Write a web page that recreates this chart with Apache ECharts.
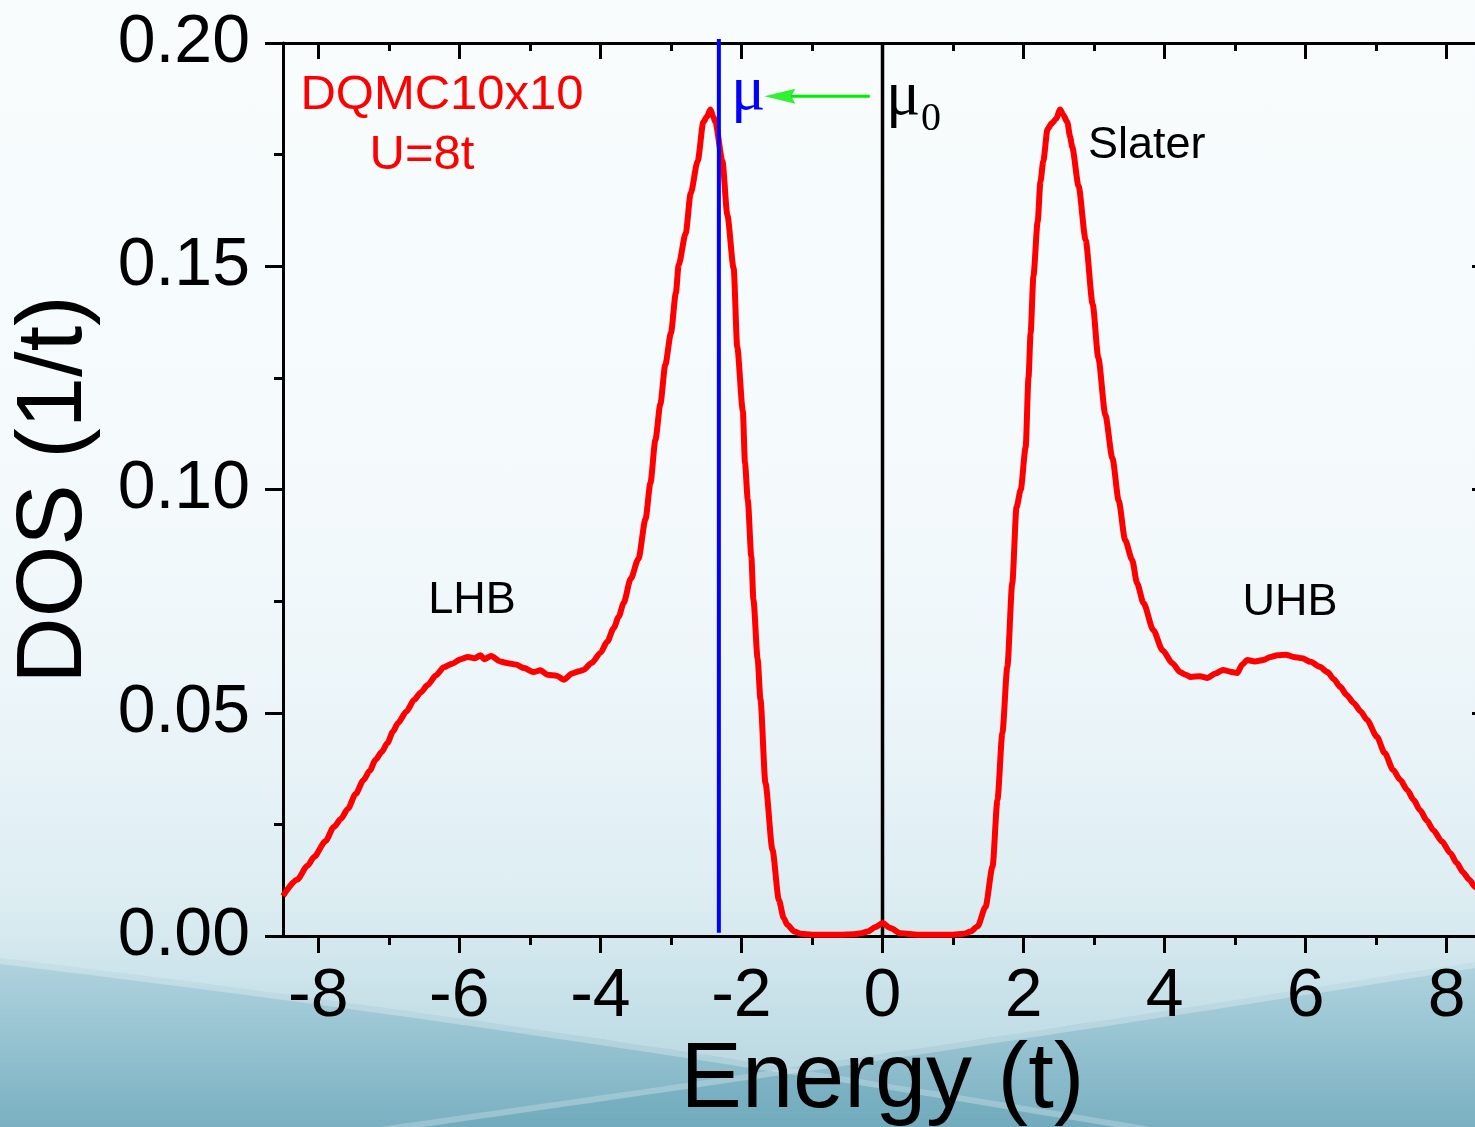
<!DOCTYPE html>
<html>
<head>
<meta charset="utf-8">
<title>DOS DQMC 10x10, U=8t</title>
<script src="https://cdn.jsdelivr.net/npm/echarts@6/dist/echarts.min.js"></script>
<style>
  html, body { margin: 0; padding: 0; }
  #chart {
    width: 1475px;
    height: 1127px;
    background: linear-gradient(to bottom, #f8fcfd 0%, #f4fafc 45%, #eaf4f8 65%, #dcedf2 80%, #c9e2ea 88%, #b0d2dd 100%);
  }
</style>
</head>
<body>
<div id="chart"></div>
<script>
// Density of states, DQMC on a 10x10 lattice at U = 8t: [energy (t), DOS (1/t)]
const dosCurve = [
  [-8.50,0.0090],[-8.30,0.0126],[-8.15,0.0158],[-8.06,0.0177],[-7.90,0.0212],[-7.78,0.0244],
  [-7.68,0.0262],[-7.58,0.0285],[-7.47,0.0318],[-7.36,0.0349],[-7.27,0.0370],[-7.19,0.0394],
  [-7.10,0.0412],[-7.02,0.0432],[-6.94,0.0458],[-6.87,0.0477],[-6.75,0.0503],[-6.64,0.0529],
  [-6.55,0.0545],[-6.45,0.0562],[-6.33,0.0584],[-6.22,0.0602],[-6.10,0.0610],[-5.98,0.0620],
  [-5.88,0.0625],[-5.78,0.0622],[-5.70,0.0629],[-5.65,0.0620],[-5.55,0.0627],[-5.42,0.0615],
  [-5.31,0.0611],[-5.20,0.0608],[-5.08,0.0600],[-4.95,0.0591],[-4.85,0.0595],[-4.75,0.0585],
  [-4.62,0.0583],[-4.52,0.0574],[-4.40,0.0588],[-4.30,0.0593],[-4.24,0.0596],[-4.12,0.0612],
  [-4.00,0.0634],[-3.90,0.0660],[-3.81,0.0690],[-3.74,0.0715],[-3.67,0.0746],[-3.57,0.0800],
  [-3.46,0.0845],[-3.36,0.0934],[-3.29,0.1015],[-3.22,0.1111],[-3.15,0.1191],[-3.08,0.1279],
  [-3.00,0.1350],[-2.93,0.1440],[-2.89,0.1503],[-2.79,0.1574],[-2.72,0.1663],[-2.62,0.1736],
  [-2.54,0.1823],[-2.49,0.1835],[-2.44,0.1851],[-2.40,0.1835],[-2.37,0.1823],[-2.27,0.1736],
  [-2.20,0.1615],[-2.11,0.1495],[-2.06,0.1320],[-1.98,0.1176],[-1.95,0.1060],[-1.91,0.0977],
  [-1.86,0.0850],[-1.83,0.0753],[-1.77,0.0620],[-1.73,0.0529],[-1.66,0.0343],[-1.56,0.0193],
  [-1.47,0.0081],[-1.40,0.0040],[-1.35,0.0025],[-1.25,0.0010],[-1.16,0.0005],[-1.00,0.0003],
  [-0.60,0.0003],[-0.40,0.0004],[-0.30,0.0006],[-0.21,0.0010],[-0.10,0.0020],[0.00,0.0029],
  [0.11,0.0018],[0.26,0.0006],[0.50,0.0003],[1.00,0.0003],[1.15,0.0005],[1.25,0.0010],
  [1.35,0.0022],[1.46,0.0065],[1.56,0.0155],[1.63,0.0305],[1.70,0.0455],[1.77,0.0603],
  [1.84,0.0790],[1.90,0.0960],[1.96,0.1000],[2.03,0.1095],[2.07,0.1250],[2.10,0.1350],
  [2.14,0.1478],[2.20,0.1600],[2.24,0.1690],[2.28,0.1736],[2.34,0.1807],[2.40,0.1820],
  [2.46,0.1830],[2.52,0.1851],[2.56,0.1840],[2.62,0.1823],[2.66,0.1790],[2.69,0.1767],
  [2.78,0.1680],[2.88,0.1559],[2.98,0.1415],[3.06,0.1295],[3.16,0.1167],[3.26,0.1070],
  [3.35,0.0974],[3.44,0.0887],[3.54,0.0842],[3.61,0.0790],[3.70,0.0746],[3.84,0.0685],
  [3.97,0.0640],[4.11,0.0611],[4.22,0.0591],[4.30,0.0585],[4.37,0.0580],[4.50,0.0582],
  [4.61,0.0578],[4.72,0.0588],[4.83,0.0596],[4.93,0.0592],[5.03,0.0589],[5.10,0.0608],
  [5.17,0.0618],[5.28,0.0615],[5.40,0.0618],[5.50,0.0625],[5.60,0.0629],[5.72,0.0630],
  [5.83,0.0625],[5.95,0.0622],[6.07,0.0614],[6.20,0.0603],[6.31,0.0591],[6.40,0.0575],
  [6.49,0.0558],[6.58,0.0540],[6.68,0.0522],[6.78,0.0503],[6.87,0.0484],[7.01,0.0446],
  [7.12,0.0410],[7.24,0.0372],[7.34,0.0350],[7.44,0.0327],[7.53,0.0305],[7.62,0.0282],
  [7.72,0.0258],[7.81,0.0237],[7.93,0.0212],[8.05,0.0186],[8.14,0.0164],[8.23,0.0143],
  [8.32,0.0126],[8.40,0.0110],[8.50,0.0094]
];

// Axis ranges and ticks
const energyRange = [-8.5, 8.5];
const dosRange = [0, 0.2];
const dosStep = 0.05;
const energyTicks = [-8, -6, -4, -2, 0, 2, 4, 6, 8];
const energyMinorTicks = [-7, -5, -3, -1, 1, 3, 5, 7];

// Chemical potentials: shifted (mu) and half filling (mu0)
const mu = -2.32;
const mu0 = 0;
// Arrow from mu0 towards mu, drawn at this DOS level
const arrowLevel = 0.1881;
const arrowShaft = [-0.18, -1.30];
const arrowHeadAt = -1.455;

const SANS = '"Liberation Sans", Arial, Helvetica, sans-serif';
const SERIF = '"Liberation Serif", "Times New Roman", serif';

// Background swoosh helpers (decoration only)
function quadCurve(p0, p1, p2, n) {
  const pts = [];
  for (let i = 0; i <= n; i++) {
    const t = i / n, a = (1 - t) * (1 - t), b = 2 * (1 - t) * t, c = t * t;
    pts.push([a * p0[0] + b * p1[0] + c * p2[0], a * p0[1] + b * p1[1] + c * p2[1]]);
  }
  return pts;
}
const swooshA = quadCurve([0, 958], [520, 1020], [1150, 1127], 48);
const swooshB = quadCurve([380, 1127], [960, 1045], [1475, 962], 48);
function tealFill() {
  return new echarts.graphic.LinearGradient(0, 0, 0, 1, [
    { offset: 0, color: 'rgba(140,190,206,0.45)' },
    { offset: 1, color: 'rgba(112,170,188,0.85)' }
  ]);
}

const chart = echarts.init(document.getElementById('chart'), null, { renderer: 'canvas' });

const baseX = { type: 'value', min: energyRange[0], max: energyRange[1], splitLine: { show: false } };
const blackLine = { color: '#000', width: 3 };

chart.setOption({
  backgroundColor: 'transparent',
  animation: false,
  grid: { left: 283, top: 43, width: 1199, height: 893, containLabel: false, outerBoundsMode: 'none' },
  xAxis: [
    Object.assign({}, baseX, {
      position: 'bottom',
      axisLine: { show: true, onZero: false, lineStyle: blackLine },
      axisTick: { show: true, inside: false, length: 17, customValues: energyTicks, lineStyle: blackLine },
      axisLabel: {
        show: true, customValues: energyTicks, margin: 27,
        fontSize: 68, fontFamily: SANS, color: '#000',
        formatter: v => String(v)
      },
      name: 'Energy (t)', nameLocation: 'middle', nameGap: 94,
      nameTextStyle: { fontSize: 92, fontFamily: SANS, color: '#000' }
    }),
    Object.assign({}, baseX, {
      position: 'bottom',
      axisLine: { show: false, onZero: false },
      axisTick: { show: true, inside: false, length: 9, customValues: energyMinorTicks, lineStyle: blackLine },
      axisLabel: { show: false }
    }),
    Object.assign({}, baseX, {
      position: 'top',
      axisLine: { show: true, onZero: false, lineStyle: blackLine },
      axisTick: { show: true, inside: true, length: 16, customValues: energyTicks, lineStyle: blackLine },
      axisLabel: { show: false }
    }),
    Object.assign({}, baseX, {
      position: 'top',
      axisLine: { show: false, onZero: false },
      axisTick: { show: true, inside: true, length: 8, customValues: energyMinorTicks, lineStyle: blackLine },
      axisLabel: { show: false }
    })
  ],
  yAxis: [
    {
      type: 'value', position: 'left', min: dosRange[0], max: dosRange[1], interval: dosStep,
      axisLine: { show: true, onZero: false, lineStyle: blackLine },
      axisTick: { show: true, inside: false, length: 18, lineStyle: blackLine },
      minorTick: { show: true, splitNumber: 2, length: 9, lineStyle: blackLine },
      splitLine: { show: false },
      axisLabel: {
        margin: 33, fontSize: 68, fontFamily: SANS, color: '#000',
        formatter: v => v.toFixed(2)
      },
      name: 'DOS (1/t)', nameLocation: 'middle', nameGap: 181,
      nameTextStyle: { fontSize: 92, fontFamily: SANS, color: '#000' }
    },
    {
      type: 'value', position: 'right', min: dosRange[0], max: dosRange[1], interval: dosStep,
      axisLine: { show: true, onZero: false, lineStyle: blackLine },
      axisTick: { show: true, inside: true, length: 10, lineStyle: blackLine },
      minorTick: { show: true, splitNumber: 2, length: 5, lineStyle: blackLine },
      splitLine: { show: false },
      axisLabel: { show: false }
    }
  ],
  graphic: [
    { type: 'polygon', z: -100, silent: true, shape: { points: swooshA.concat([[0, 1127]]) }, style: { fill: tealFill() } },
    { type: 'polygon', z: -100, silent: true, shape: { points: swooshB.concat([[1475, 1127]]) }, style: { fill: tealFill() } },
    { type: 'polyline', z: -99, silent: true, shape: { points: swooshA.map(p => [p[0], p[1] + 3]) }, style: { stroke: 'rgba(255,255,255,0.28)', lineWidth: 6, fill: null } },
    { type: 'polyline', z: -99, silent: true, shape: { points: swooshB.map(p => [p[0], p[1] + 3]) }, style: { stroke: 'rgba(255,255,255,0.28)', lineWidth: 6, fill: null } },

    { type: 'text', x: 442, y: 95, z: 10, style: { text: 'DQMC10x10', align: 'center', verticalAlign: 'middle', fontSize: 49, fontFamily: SANS, fill: '#ff0000' } },
    { type: 'text', x: 422, y: 155, z: 10, style: { text: 'U=8t', align: 'center', verticalAlign: 'middle', fontSize: 49, fontFamily: SANS, fill: '#ff0000' } },
    { type: 'text', x: 472, y: 601, z: 10, style: { text: 'LHB', align: 'center', verticalAlign: 'middle', fontSize: 45, fontFamily: SANS, fill: '#000' } },
    { type: 'text', x: 1290, y: 603, z: 10, style: { text: 'UHB', align: 'center', verticalAlign: 'middle', fontSize: 45, fontFamily: SANS, fill: '#000' } },
    { type: 'text', x: 1088, y: 146, z: 10, style: { text: 'Slater', align: 'left', verticalAlign: 'middle', fontSize: 45, fontFamily: SANS, fill: '#000' } },
    { type: 'text', x: 731, y: 92, z: 10, style: { text: 'μ', align: 'left', verticalAlign: 'middle', fontSize: 64, fontFamily: SERIF, fill: '#0000ff' } },
    { type: 'text', x: 886, y: 97, z: 10, style: { text: 'μ', align: 'left', verticalAlign: 'middle', fontSize: 64, fontFamily: SERIF, fill: '#000' } },
    { type: 'text', x: 921, y: 119, z: 10, style: { text: '0', align: 'left', verticalAlign: 'middle', fontSize: 40, fontFamily: SERIF, fill: '#000' } }
  ],
  series: [
    {
      name: 'DOS', type: 'line', xAxisIndex: 0, yAxisIndex: 0,
      data: dosCurve, showSymbol: false, symbol: 'none',
      smooth: 0.25, smoothMonotone: 'x',
      lineStyle: { color: '#ff0000', width: 6 }, z: 5
    },
    {
      name: 'mu0', type: 'line', xAxisIndex: 0, yAxisIndex: 0,
      data: [[mu0, dosRange[0]], [mu0, dosRange[1]]], symbol: 'none',
      lineStyle: { color: '#000', width: 3.5 }, z: 4
    },
    {
      name: 'mu', type: 'line', xAxisIndex: 0, yAxisIndex: 0, clip: false,
      data: [[mu, 0.0007], [mu, 0.2009]], symbol: 'none',
      lineStyle: { color: '#0000ff', width: 4 }, z: 6
    },
    {
      name: 'shift', type: 'line', xAxisIndex: 0, yAxisIndex: 0,
      data: [[arrowShaft[0], arrowLevel], [arrowShaft[1], arrowLevel]], symbol: 'none',
      lineStyle: { color: '#00ee00', width: 3 }, z: 6
    },
    {
      name: 'shiftHead', type: 'scatter', xAxisIndex: 0, yAxisIndex: 0,
      data: [[arrowHeadAt, arrowLevel]],
      symbol: 'path://M0,0 L10,30 L0,26 L-10,30 Z', symbolSize: [15, 31], symbolRotate: 90,
      itemStyle: { color: '#00ee00' }, z: 7
    }
  ]
});
</script>
</body>
</html>
